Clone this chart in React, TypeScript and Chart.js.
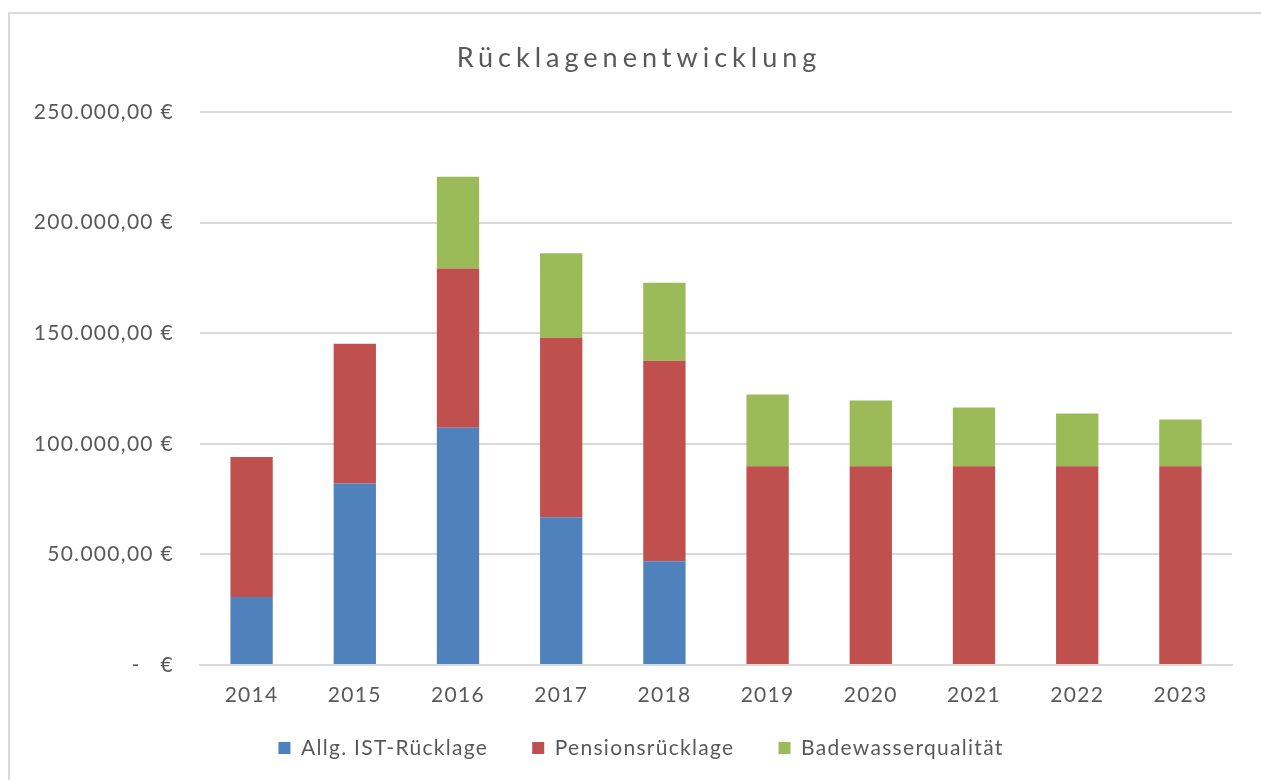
import React, { useEffect, useRef } from "react";
import { Chart, registerables } from "chart.js";

Chart.register(...registerables);

const years = ["2014", "2015", "2016", "2017", "2018", "2019", "2020", "2021", "2022", "2023"];
const allgIstRuecklage = [30700, 82100, 107300, 66800, 46900, null, null, null, null, null];
const pensionsRuecklage = [63300, 63100, 72000, 81100, 90600, 89800, 89800, 89800, 89800, 89800];
const badewasserQualitaet = [null, null, 41400, 38300, 35300, 32500, 29800, 26600, 23900, 21200];
const seriesNames = ["Allg. IST-Rücklage", "Pensionsrücklage", "Badewasserqualität"];
const seriesColors = ["#4F81BD", "#C0504D", "#9BBB59"];
const yTicks = [0, 50000, 100000, 150000, 200000, 250000];
const titleText = "Rücklagenentwicklung";

const TEXT = "#595959";
const FONT = "Lato";
const SPACING = 1.3;

function formatEuro(v: number): string {
  if (v === 0) return "-   €";
  const intPart = Math.floor(v).toString().replace(/\B(?=(\d{3})+(?!\d))/g, ".");
  return intPart + ",00 €";
}

const spacingPlugin = {
  id: "letterSpacingPlugin",
  beforeLayout(chart: any) {
    chart.ctx.letterSpacing = SPACING + "px";
  },
  beforeDraw(chart: any) {
    chart.ctx.letterSpacing = SPACING + "px";
  },
};

const legendShiftPlugin = {
  id: "legendShift",
  afterLayout(chart: any) {
    const l = chart.legend;
    if (!l) return;
    l.left += 25;
    l.right += 25;
    l.top -= 11.5;
    l.bottom -= 11.5;
  },
};

const titlePlugin = {
  id: "spacedTitle",
  afterDraw(chart: any) {
    const ctx = chart.ctx;
    const sp = 5;
    ctx.save();
    ctx.font = "27px " + FONT;
    ctx.letterSpacing = "0px";
    const w0 = ctx.measureText(titleText).width;
    const w = w0 + (titleText.length - 1) * sp;
    ctx.letterSpacing = sp + "px";
    ctx.fillStyle = TEXT;
    ctx.textAlign = "left";
    ctx.textBaseline = "alphabetic";
    ctx.fillText(titleText, 636.5 - w / 2, 67);
    ctx.restore();
  },
};

export default function App() {
  const ref = useRef<HTMLCanvasElement | null>(null);
  useEffect(() => {
    if (!ref.current) return;
    const data = [allgIstRuecklage, pensionsRuecklage, badewasserQualitaet];
    const chart = new Chart(ref.current, {
      type: "bar",
      data: {
        labels: years,
        datasets: data.map((d, i) => ({
          label: seriesNames[i],
          data: d,
          backgroundColor: seriesColors[i],
          borderWidth: 0,
          barPercentage: 0.41,
          categoryPercentage: 1,
        })),
      },
      plugins: [spacingPlugin, legendShiftPlugin, titlePlugin],
      options: {
        animation: false,
        responsive: false,
        layout: { padding: { top: 112, right: 29, bottom: 0, left: 0 } },
        plugins: {
          title: { display: false },
          legend: {
            position: "bottom",
            labels: {
              color: TEXT,
              font: { family: FONT, size: 21 },
              boxWidth: 12,
              boxHeight: 12,
              padding: 44,
            },
          },
          tooltip: { enabled: false },
        },
        scales: {
          x: {
            stacked: true,
            grid: { display: false, drawTicks: false },
            border: { display: true, color: "#d9d9d9", width: 2 },
            ticks: { color: TEXT, font: { family: FONT, size: 21 }, padding: 18 },
            afterFit: (s: any) => {
              s.height = 40;
            },
          },
          y: {
            stacked: true,
            min: 0,
            max: 250000,
            afterBuildTicks: (s: any) => {
              s.ticks = yTicks.map((v) => ({ value: v }));
            },
            ticks: {
              color: TEXT,
              font: { family: FONT, size: 21 },
              padding: 26,
              callback: (v: any) => formatEuro(Number(v)),
            },
            grid: { color: "#d9d9d9", lineWidth: 2, drawTicks: false },
            border: { display: false },
            afterFit: (s: any) => {
              s.width = 200;
            },
          },
        },
      },
    });
    return () => chart.destroy();
  }, []);

  return (
    <div
      style={{
        position: "fixed",
        left: 0,
        top: 0,
        width: 1261,
        height: 780,
        overflow: "hidden",
        background: "#fff",
      }}
    >
      <div
        style={{
          position: "absolute",
          left: 8,
          top: 12,
          width: 1320,
          height: 820,
          border: "2px solid #d9d9d9",
          boxSizing: "border-box",
        }}
      />
      <canvas
        ref={ref}
        width={1261}
        height={780}
        style={{ position: "absolute", left: 0, top: 0, width: 1261, height: 780 }}
      />
    </div>
  );
}
